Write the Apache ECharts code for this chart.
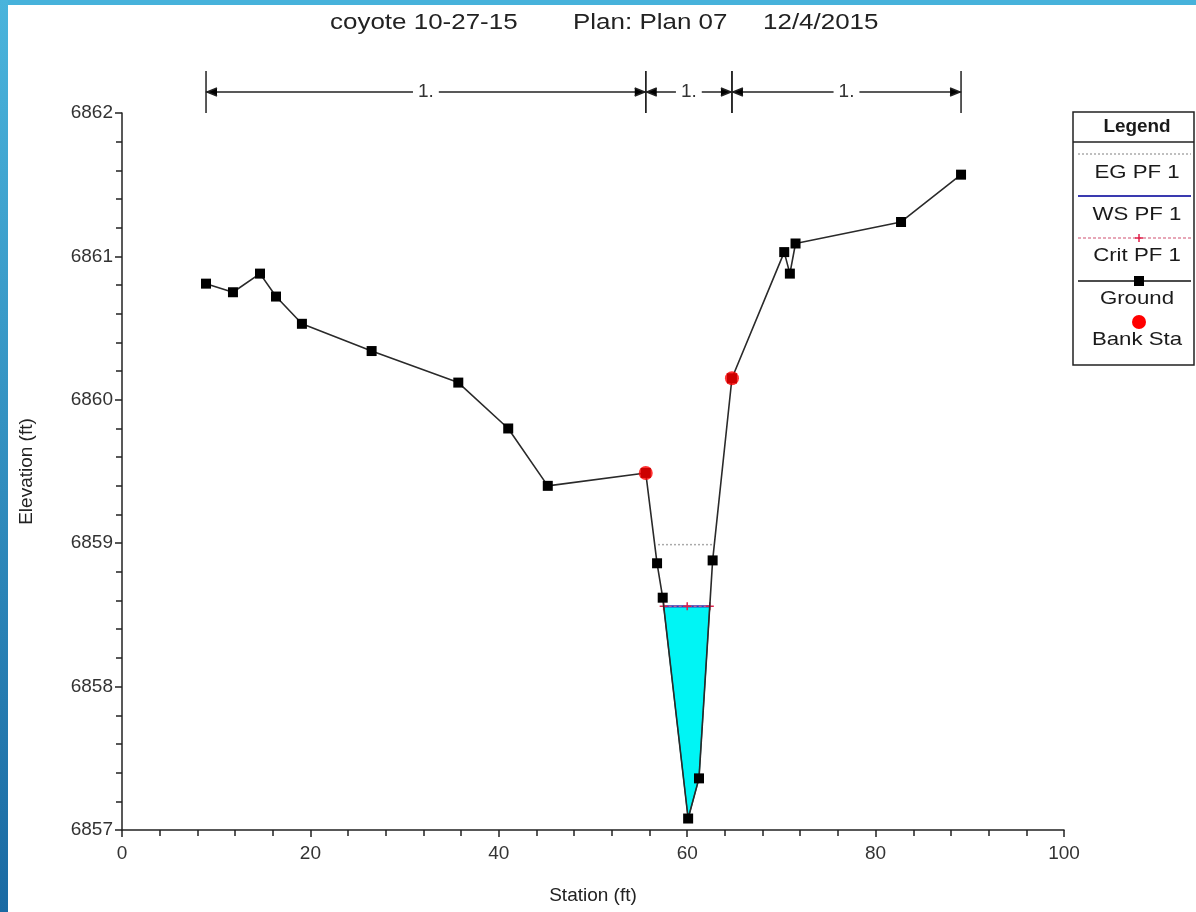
<!DOCTYPE html>
<html>
<head>
<meta charset="utf-8">
<script src="https://cdn.jsdelivr.net/npm/echarts@6/dist/echarts.min.js"></script>
<style>
html,body{margin:0;padding:0;background:#fff;}
#chart{width:1196px;height:912px;}
</style>
</head>
<body>
<div id="chart"></div>
<script>
// ---- data ----
const groundStation = [8.92, 11.78, 14.65, 16.35, 19.1, 26.5, 35.7, 41.0, 45.2, 55.6, 56.8, 57.4, 60.1, 61.25, 62.7, 64.75, 70.3, 70.9, 71.5, 82.7, 89.07];
const groundElev    = [6860.81, 6860.75, 6860.88, 6860.72, 6860.53, 6860.34, 6860.12, 6859.80, 6859.40, 6859.49, 6858.86, 6858.62, 6857.08, 6857.36, 6858.88, 6860.15, 6861.03, 6860.88, 6861.09, 6861.24, 6861.57];
const bankStation = [55.6, 64.75];
const bankElev    = [6859.49, 6860.15];
const wsStation = [57.5, 62.4];
const wsElev = 6858.56;
const critStation = [57.5, 60.0, 62.4];
const critElev = 6858.56;
const egStation = [56.9, 62.8];
const egElev = 6858.99;
const waterStation = [57.5, 60.1, 61.25, 62.4];
const waterElev = [6858.56, 6857.08, 6857.36, 6858.56];
const nBreaks = [8.92, 55.6, 64.75, 89.07];
const nValues = ['1.', '1.', '1.'];
const titleParts = ['coyote 10-27-15', 'Plan: Plan 07', '12/4/2015'];
const legendNames = ['EG PF 1', 'WS PF 1', 'Crit PF 1', 'Ground', 'Bank Sta'];
const xTicks = [0, 20, 40, 60, 80, 100];
const yTicks = [6857, 6858, 6859, 6860, 6861, 6862];

const FONT = '"Liberation Sans", Arial, sans-serif';
const chart = echarts.init(document.getElementById('chart'), null, {renderer: 'canvas'});

const groundData = groundStation.map((s, i) => [s, groundElev[i]]);
const bankData = bankStation.map((s, i) => [s, bankElev[i]]);
const wsData = wsStation.map(s => [s, wsElev]);
const critData = critStation.map(s => [s, critElev]);
const egData = egStation.map(s => [s, egElev]);
const nSegments = nValues.map((v, i) => [nBreaks[i], nBreaks[i + 1], v]);

const crossPath = 'path://M5,0L5,10M0,5L10,5';

function ltext(str, y, bold) {
  return {type:'text', x:1137, y:y, scaleX: bold ? 1.05 : 1.17, scaleY: 1,
    style:{text:str, font:(bold ? 'bold 18px ' : '19px ') + FONT, fill:'#1a1a1a', align:'center', verticalAlign:'middle'}, z:101};
}

// legend block (drawn as graphics)
const LX0 = 1074, LX1 = 1193, LMID = 1139;
const legendGraphics = [
  {type:'rect', shape:{x:1073, y:112, width:121, height:253}, style:{fill:'#fff', stroke:'#222', lineWidth:1.5}, z:100},
  {type:'line', shape:{x1:1073, y1:142, x2:1194, y2:142}, style:{stroke:'#222', lineWidth:1.5}, z:101},
  ltext('Legend', 127, true),
  {type:'line', shape:{x1:LX0+4, y1:154, x2:LX1-2, y2:154}, style:{stroke:'#aaa', lineWidth:1.5, lineDash:[2,2]}, z:101},
  ltext(legendNames[0], 173),
  {type:'line', shape:{x1:LX0+4, y1:196, x2:LX1-2, y2:196}, style:{stroke:'#3a3ab0', lineWidth:2}, z:101},
  ltext(legendNames[1], 215),
  {type:'line', shape:{x1:LX0+4, y1:238, x2:LX1-2, y2:238}, style:{stroke:'#e08aa0', lineWidth:1.5, lineDash:[3,2]}, z:101},
  {type:'line', shape:{x1:LMID, y1:234, x2:LMID, y2:242}, style:{stroke:'#e0204a', lineWidth:1.5}, z:101},
  {type:'line', shape:{x1:LMID-4, y1:238, x2:LMID+4, y2:238}, style:{stroke:'#e0204a', lineWidth:1.5}, z:101},
  ltext(legendNames[2], 256),
  {type:'line', shape:{x1:LX0+4, y1:281, x2:LX1-2, y2:281}, style:{stroke:'#111', lineWidth:1.5}, z:101},
  {type:'rect', shape:{x:LMID-5, y:276, width:10, height:10}, style:{fill:'#000'}, z:102},
  ltext(legendNames[3], 299),
  {type:'circle', shape:{cx:LMID, cy:322, r:7}, style:{fill:'#ff0000'}, z:101},
  ltext(legendNames[4], 340)
];

const frameGraphics = [
  {type:'rect', shape:{x:0, y:0, width:1196, height:5}, style:{fill:'#47b2db'}, z:200},
  {type:'rect', shape:{x:0, y:0, width:8, height:912}, style:{fill:new echarts.graphic.LinearGradient(0,0,0,1,[{offset:0,color:'#4ab4dc'},{offset:1,color:'#1a6aa3'}])}, z:200}
];

function ttext(str, x) {
  return {type:'text', x:x, y:23, scaleX:1.18, scaleY:1,
    style:{text:str, font:'22px ' + FONT, fill:'#222', align:'left', verticalAlign:'middle'}};
}
const titleGraphics = [ttext(titleParts[0], 330), ttext(titleParts[1], 573), ttext(titleParts[2], 763)];

const option = {
  backgroundColor: '#ffffff',
  animation: false,
  grid: {left: 122, right: 132, top: 113, bottom: 82, containLabel: false},
  xAxis: {
    type: 'value', min: 0, max: 100, interval: 20,
    name: 'Station (ft)', nameLocation: 'middle', nameGap: 56,
    nameTextStyle: {fontFamily: FONT, fontSize: 19, color: '#222'},
    axisLine: {show: true, onZero: false, lineStyle: {color: '#222', width: 1.5}},
    axisTick: {show: true, inside: false, length: 7, lineStyle: {color: '#222', width: 1.5}},
    minorTick: {show: true, splitNumber: 5, length: 6, lineStyle: {color: '#222', width: 1.5}},
    splitLine: {show: false},
    axisLabel: {fontFamily: FONT, fontSize: 19, color: '#333', margin: 14,
      formatter: v => xTicks.includes(v) ? String(v) : ''}
  },
  yAxis: {
    type: 'value', min: 6857, max: 6862, interval: 1,
    name: 'Elevation (ft)', nameLocation: 'middle', nameGap: 86, nameRotate: 90,
    nameTextStyle: {fontFamily: FONT, fontSize: 19, color: '#222'},
    axisLine: {show: true, onZero: false, lineStyle: {color: '#222', width: 1.5}},
    axisTick: {show: true, inside: false, length: 7, lineStyle: {color: '#222', width: 1.5}},
    minorTick: {show: true, splitNumber: 5, length: 6, lineStyle: {color: '#222', width: 1.5}},
    splitLine: {show: false},
    axisLabel: {fontFamily: FONT, fontSize: 19, color: '#333', margin: 9,
      formatter: v => yTicks.includes(v) ? String(v) : ''}
  },
  graphic: [...frameGraphics, ...titleGraphics, ...legendGraphics],
  series: [
    {
      name: 'Water', type: 'custom', z: 1, silent: true,
      renderItem: (params, api) => {
        if (params.dataIndex !== 0) return null;
        const pts = waterStation.map((s, i) => api.coord([s, waterElev[i]]));
        return {type: 'polygon', shape: {points: pts}, style: {fill: '#00f5f5', stroke: '#107878', lineWidth: 1.2}};
      },
      data: [[waterStation[0], waterElev[0]]]
    },
    {
      name: legendNames[0], type: 'line', data: egData, z: 3,
      symbol: 'none', lineStyle: {color: '#aaaaaa', width: 1.5, type: [2, 2]}
    },
    {
      name: legendNames[1], type: 'line', data: wsData, z: 4,
      symbol: 'none', lineStyle: {color: '#3a3ab8', width: 2.2}
    },
    {
      name: legendNames[2], type: 'line', data: critData, z: 5,
      symbol: crossPath, symbolSize: 8, showAllSymbol: true,
      itemStyle: {color: 'rgba(0,0,0,0)', borderColor: '#e0204a', borderWidth: 1.5},
      lineStyle: {color: '#e26a8a', width: 1, type: [3, 2]}
    },
    {
      name: legendNames[3], type: 'line', data: groundData, z: 6,
      symbol: 'rect', symbolSize: 10, showAllSymbol: true,
      itemStyle: {color: '#000'},
      lineStyle: {color: '#2a2a2a', width: 1.6}
    },
    {
      name: legendNames[4], type: 'scatter', data: bankData, z: 7,
      symbol: 'circle', symbolSize: 14,
      itemStyle: {color: '#ff0000'}
    },
    {
      name: 'nValues', type: 'custom', clip: false, z: 8, silent: true,
      renderItem: (params, api) => {
        const a = api.value(0), b = api.value(1);
        const pa = api.coord([a, 6862]);
        const pb = api.coord([b, 6862]);
        const top = pa[1];
        const ly = top - 21;
        const x0 = pa[0], x1 = pb[0];
        const st = {stroke: '#222', lineWidth: 1.5};
        const mid = (x0 + x1) / 2;
        return {
          type: 'group',
          children: [
            {type: 'line', shape: {x1: x0, y1: ly, x2: x1, y2: ly}, style: st},
            {type: 'line', shape: {x1: x0, y1: top - 42, x2: x0, y2: top}, style: st},
            {type: 'line', shape: {x1: x1, y1: top - 42, x2: x1, y2: top}, style: st},
            {type: 'polyline', shape: {points: [[x0 + 11, ly - 4], [x0 + 1, ly], [x0 + 11, ly + 4]]}, style: st},
            {type: 'polyline', shape: {points: [[x1 - 11, ly - 4], [x1 - 1, ly], [x1 - 11, ly + 4]]}, style: st},
            {type: 'text', x: mid, y: ly, style: {text: nValues[params.dataIndex],
              font: '19px ' + FONT, fill: '#333', align: 'center', verticalAlign: 'middle',
              backgroundColor: '#fff', padding: [0, 5]}}
          ]
        };
      },
      data: nSegments
    }
  ]
};
chart.setOption(option);
</script>
</body>
</html>
